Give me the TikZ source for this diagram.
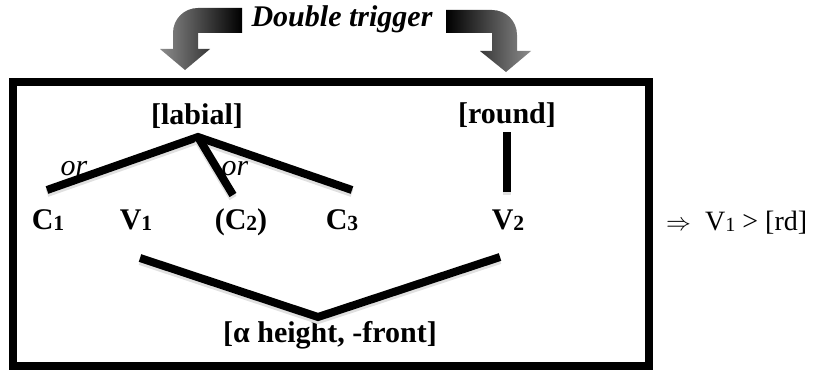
\documentclass[tikz,border=0pt]{standalone}
\usepackage{fontspec}
\setmainfont{Liberation Serif}
\usepackage{graphicx}
\usepackage{tikz}
\newcommand{\segidx}[1]{\raisebox{-0.06em}{\scalebox{0.72}{#1}}}

\begin{document}
\begin{tikzpicture}[x=1pt,y=-1pt,
  lab/.style={anchor=base,inner sep=0pt,font=\fontsize{30}{34}\selectfont\bfseries},
  gloss/.style={anchor=base,inner sep=0pt,font=\fontsize{30}{34}\selectfont\itshape},
  assoc/.style={line width=8pt,preaction={draw=black!12,line width=8pt,transform canvas={yshift=-3pt}}},
  trig/.style={left color=black!45,right color=black}]
\useasboundingbox (0,0) rectangle (818,369);
% trigger arrows
\shade[trig] (242,8) -- (198,8) .. controls (184,8) and (173,19) .. (173,33) -- (173,49) -- (160,49) -- (185,70) -- (210,49) -- (198,49) -- (198,33) -- (242,33) -- cycle;
\shade[trig,left color=black,right color=black!45] (446,10) -- (492,10) .. controls (506,10) and (517,21) .. (517,35) -- (517,51) -- (531,51) -- (506,72) -- (480,51) -- (492,51) -- (492,33) -- (446,33) -- cycle;
\node[gloss] (trigger) at (342,27) {\bfseries Double trigger};
% frame
\draw[line width=8pt] (12.5,81.5) rectangle (649,365.5);
% features and segments
\node[lab] (labial) at (197,124) {[labial]};
\node[lab] (round) at (507,123) {[round]};
\node[lab] (c1) at (48,229) {C\segidx{1}};
\node[lab] (v1) at (136,229) {V\segidx{1}};
\node[lab] (c2) at (241,229) {(C\segidx{2})};
\node[lab] (c3) at (342,229) {C\segidx{3}};
\node[lab] (v2) at (508,229) {V\segidx{2}};
\node[lab] (height) at (330,342) {[α height, -front]};
\node[gloss] (or1) at (74,175) {or};
\node[gloss] (or2) at (235,175) {or};
\node[anchor=base west,inner sep=0pt,font=\fontsize{28}{32}\selectfont] (result) at (666,230) {$\Rightarrow$\ \ V\segidx{1} > [rd]};
% association lines
\coordinate (labfoot) at (198,137);
\coordinate (c1top) at (47,190);
\coordinate (c2top) at (233,195);
\coordinate (c3top) at (352,190);
\coordinate (rdfoot) at (507,132);
\coordinate (v2top) at (507,192);
\coordinate (v1low) at (140,258);
\coordinate (htop) at (318,317);
\coordinate (v2low) at (500,257);
\draw[assoc] (c1top) -- (labfoot) -- (c3top);
\draw[assoc] (labfoot) -- (c2top);
\draw[assoc] (rdfoot) -- (v2top);
\draw[assoc] (v1low) -- (htop) -- (v2low);
\end{tikzpicture}
\end{document}
